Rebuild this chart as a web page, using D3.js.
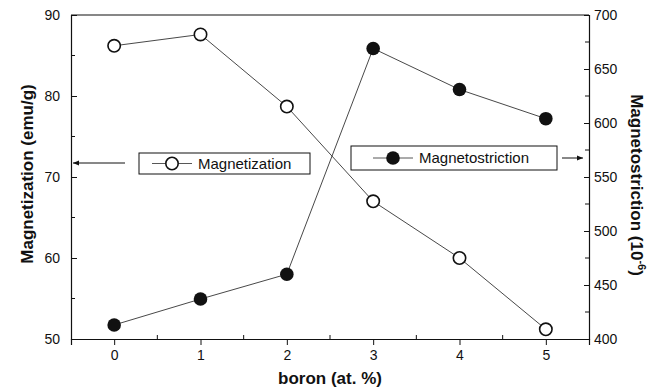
<!DOCTYPE html>
<html>
<head>
<meta charset="utf-8">
<script src="https://cdn.jsdelivr.net/npm/d3@7/dist/d3.min.js"></script>
<style>
  body { margin: 0; background: #fff; }
  svg { font-family: "Liberation Sans", Arial, sans-serif; }
</style>
</head>
<body>
<svg id="chart" width="664" height="390"></svg>
<script>
// data
const boron = [0, 1, 2, 3, 4, 5];
const magnetization = [86.2, 87.6, 78.7, 67.0, 60.0, 51.2];
const magnetostriction = [413, 437, 460, 669, 631, 604];
const xTicks = [0, 1, 2, 3, 4, 5];
const yLeftTicks = [50, 60, 70, 80, 90];
const yRightTicks = [400, 450, 500, 550, 600, 650, 700];

const svg = d3.select("#chart");
const plotLeft = 71, plotRight = 589, plotTop = 15, plotBottom = 339;
const ink = "#111";

const x = d3.scaleLinear().domain([-0.5, 5.5]).range([plotLeft, plotRight]);
const yL = d3.scaleLinear().domain([50, 90]).range([plotBottom, plotTop]);
const yR = d3.scaleLinear().domain([400, 700]).range([plotBottom, plotTop]);

// frame: top line
svg.append("line")
  .attr("x1", plotLeft).attr("x2", plotRight).attr("y1", plotTop).attr("y2", plotTop)
  .attr("stroke", ink).attr("stroke-width", 1.2);

// bottom axis - major ticks outward, minor ticks inward
const gx = svg.append("g")
  .attr("transform", "translate(0," + plotBottom + ")")
  .call(d3.axisBottom(x).tickValues(xTicks).tickSize(6).tickPadding(5).tickFormat(d3.format("d")));
gx.selectAll(".minor").data([0.5, 1.5, 2.5, 3.5, 4.5]).enter()
  .append("line").attr("class", "minor")
  .attr("x1", (d) => x(d)).attr("x2", (d) => x(d))
  .attr("y1", 0).attr("y2", -4)
  .attr("stroke", ink);

// left axis - ticks inward
const gl = svg.append("g")
  .attr("transform", "translate(" + plotLeft + ",0)")
  .call(d3.axisLeft(yL).tickValues(yLeftTicks).tickSize(-6).tickPadding(11));
gl.selectAll(".minor").data([55, 65, 75, 85]).enter()
  .append("line").attr("class", "minor")
  .attr("x1", 0).attr("x2", 4)
  .attr("y1", (d) => yL(d)).attr("y2", (d) => yL(d))
  .attr("stroke", ink);

// right axis - ticks inward
const gr = svg.append("g")
  .attr("transform", "translate(" + plotRight + ",0)")
  .call(d3.axisRight(yR).tickValues(yRightTicks).tickSize(-5).tickPadding(5));
gr.selectAll(".minor").data([425, 475, 525, 575, 625, 675]).enter()
  .append("line").attr("class", "minor")
  .attr("x1", 0).attr("x2", -4)
  .attr("y1", (d) => yR(d)).attr("y2", (d) => yR(d))
  .attr("stroke", ink);

[gx, gl, gr].forEach((g) => {
  g.select(".domain").attr("stroke", ink).attr("stroke-width", 1.2);
  g.selectAll(".tick line").attr("stroke", ink);
  g.selectAll("text").attr("font-size", 14).attr("fill", ink)
    .attr("font-family", "Liberation Sans, Arial, sans-serif");
});

// axis titles
svg.append("text")
  .attr("transform", "translate(33,174) rotate(-90)")
  .attr("text-anchor", "middle")
  .attr("font-size", 17).attr("font-weight", "bold").attr("fill", ink)
  .text("Magnetization (emu/g)");

const rt = svg.append("text")
  .attr("transform", "translate(631,185) rotate(90)")
  .attr("text-anchor", "middle")
  .attr("font-size", 17).attr("font-weight", "bold").attr("fill", ink);
rt.append("tspan").text("Magnetostriction (10");
rt.append("tspan").attr("dy", -7).attr("font-size", 11).text("-6");
rt.append("tspan").attr("dy", 7).text(")");

svg.append("text")
  .attr("x", (plotLeft + plotRight) / 2).attr("y", 384)
  .attr("text-anchor", "middle")
  .attr("font-size", 17).attr("font-weight", "bold").attr("fill", ink)
  .text("boron (at. %)");

// series
const lineL = d3.line().x((d, i) => x(boron[i])).y((d) => yL(d));
const lineR = d3.line().x((d, i) => x(boron[i])).y((d) => yR(d));

svg.append("path").datum(magnetization)
  .attr("fill", "none").attr("stroke", "#333").attr("stroke-width", 0.9)
  .attr("d", lineL);
svg.append("path").datum(magnetostriction)
  .attr("fill", "none").attr("stroke", "#333").attr("stroke-width", 0.9)
  .attr("d", lineR);

svg.selectAll(".mag").data(magnetization).enter()
  .append("circle").attr("class", "mag")
  .attr("cx", (d, i) => x(boron[i])).attr("cy", (d) => yL(d))
  .attr("r", 6.2).attr("fill", "#fff").attr("stroke", ink).attr("stroke-width", 1.6);

svg.selectAll(".mst").data(magnetostriction).enter()
  .append("circle").attr("class", "mst")
  .attr("cx", (d, i) => x(boron[i])).attr("cy", (d) => yR(d))
  .attr("r", 6.8).attr("fill", ink);

// legends with arrows pointing to their axes
svg.append("defs").append("marker")
  .attr("id", "arrow").attr("viewBox", "0 0 10 10")
  .attr("refX", 10).attr("refY", 5)
  .attr("markerWidth", 8).attr("markerHeight", 6)
  .attr("orient", "auto-start-reverse")
  .append("path").attr("d", "M0,1 L10,5 L0,9 Z").attr("fill", ink);

function legend(bx, by, bw, bh, filled, label) {
  const g = svg.append("g");
  g.append("rect").attr("x", bx).attr("y", by).attr("width", bw).attr("height", bh)
    .attr("fill", "#fff").attr("stroke", ink).attr("stroke-width", 1);
  const cy = by + bh / 2;
  const cx = bx + (filled ? 42 : 33);
  g.append("line").attr("x1", cx - 20).attr("x2", cx + 20).attr("y1", cy).attr("y2", cy)
    .attr("stroke", "#444").attr("stroke-width", 0.9);
  g.append("circle").attr("cx", cx).attr("cy", cy).attr("r", filled ? 6.8 : 6.2)
    .attr("fill", filled ? ink : "#fff").attr("stroke", ink).attr("stroke-width", filled ? 0 : 1.6);
  g.append("text").attr("x", cx + 26).attr("y", cy + 5)
    .attr("font-size", 15).attr("fill", ink).text(label);
}

legend(139, 153, 171, 21, false, "Magnetization");
legend(351, 146, 206, 24, true, "Magnetostriction");

svg.append("line")
  .attr("x1", 125).attr("x2", plotLeft + 2).attr("y1", 163).attr("y2", 163)
  .attr("stroke", ink).attr("stroke-width", 1)
  .attr("marker-end", "url(#arrow)");
svg.append("line")
  .attr("x1", 562).attr("x2", 583).attr("y1", 158).attr("y2", 158)
  .attr("stroke", ink).attr("stroke-width", 1)
  .attr("marker-end", "url(#arrow)");
</script>
</body>
</html>
